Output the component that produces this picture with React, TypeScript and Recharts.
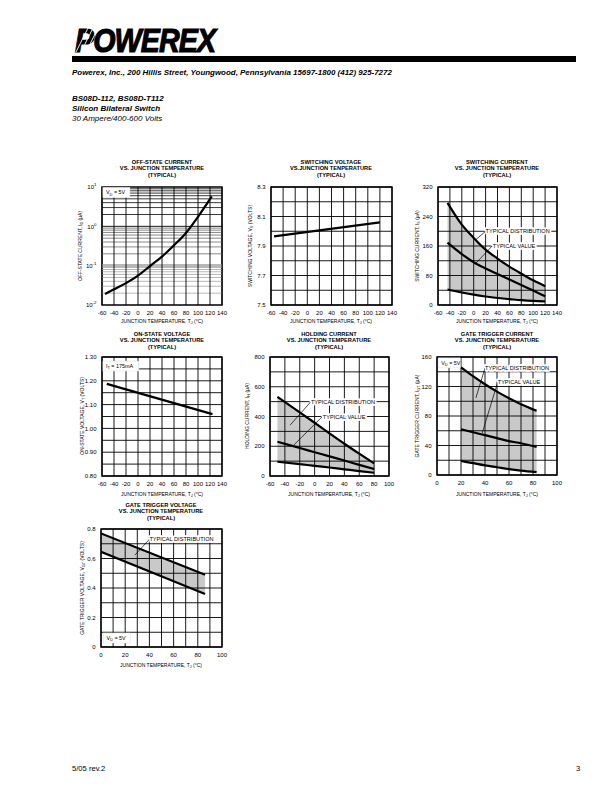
import React from 'react';
import {
  ComposedChart, Line, Area, XAxis, YAxis,
  ReferenceLine, ReferenceArea, ReferenceDot,
} from 'recharts';

const FONT = '"Liberation Sans", Arial, Helvetica, sans-serif';

// ---------------- data ----------------
// Off-state current vs junction temperature (log scale)
const offTemps = [-55, -40, -20, 0, 20, 40, 60, 80, 100, 123];
const offCurrent = [0.019, 0.025, 0.036, 0.056, 0.098, 0.17, 0.33, 0.68, 1.75, 5.8];

// Switching voltage
const swvTemps = [-55, 120];
const swvVolts = [7.965, 8.06];

// Switching current
const swcTemps = [-44, -20, 0, 20, 40, 60, 80, 100, 120];
const swcMax = [277, 218, 182, 150, 126, 104, 85, 67, 51];
const swcTyp = [169, 138, 116, 99, 84, 69, 54, 39, 24];
const swcMin = [42, 34, 28, 23, 19, 16, 13, 11, 10];

// On-state voltage
const onTemps = [-52, 124];
const onVolts = [1.187, 1.06];

// Holding current
const holdTemps = [-50, -20, 0, 20, 40, 60, 80];
const holdMax = [532, 428, 358, 287, 217, 150, 85];
const holdTyp = [230, 188, 160, 132, 104, 75, 47];
const holdMin = [96, 80, 68, 57, 45, 33, 22];

// Gate trigger current
const gtiTemps = [20, 30, 40, 50, 60, 70, 83];
const gtiMax = [146, 134, 123, 113, 104, 96, 87];
const gtiTyp = [62, 58, 54, 50, 46, 43, 38];
const gtiMin = [19, 16, 13, 10.5, 8, 6, 4];

// Gate trigger voltage
const gtvTemps = [0, 86];
const gtvMax = [0.77, 0.49];
const gtvMin = [0.645, 0.36];

// ---------------- ticks ----------------
const tempTicksWide = [-60, -40, -20, 0, 20, 40, 60, 80, 100, 120, 140];
const tempTicksHold = [-60, -40, -20, 0, 20, 40, 60, 80, 100];
const tempTicksGate = [0, 10, 20, 30, 40, 50, 60, 70, 80, 90, 100];

const offDecades = [0.01, 0.1, 1, 10];
const offMinorLow = [0.02, 0.03, 0.04, 0.05, 0.06, 0.07, 0.08, 0.09];
const offMinorMid = [0.2, 0.3, 0.4, 0.5, 0.6, 0.7, 0.8, 0.9];
const offMinorHigh = [2, 3, 4, 5, 6, 7, 8, 9];

const swvTicks = [7.5, 7.6, 7.7, 7.8, 7.9, 8.0, 8.1, 8.2, 8.3];
const swcTicks = [0, 40, 80, 120, 160, 200, 240, 280, 320];
const onTicks = [0.8, 0.85, 0.9, 0.95, 1.0, 1.05, 1.1, 1.15, 1.2, 1.25, 1.3];
const holdTicks = [0, 100, 200, 300, 400, 500, 600, 700, 800];
const gtiTicks = [0, 20, 40, 60, 80, 100, 120, 140, 160];
const gtvTicks = [0, 0.1, 0.2, 0.3, 0.4, 0.5, 0.6, 0.7, 0.8];

// ---------------- helpers ----------------
const fmtAll = (v: number) => String(v);
const fmtEvery20 = (v: number) => (Math.round(v) % 20 === 0 ? String(v) : '');
const fmtSwv = (v: number) => (Math.round(v * 10) % 2 === 1 ? v.toFixed(1) : '');
const fmtSwc = (v: number) => (Math.round(v) % 80 === 0 ? String(v) : '');
const fmtOn = (v: number) => (Math.round(v * 100) % 10 === 0 ? v.toFixed(2) : '');
const fmtHold = (v: number) => (Math.round(v) % 200 === 0 ? String(v) : '');
const fmtGti = (v: number) => (Math.round(v) % 40 === 0 ? String(v) : '');
const fmtGtv = (v: number) => (Math.round(v * 10) % 2 === 0 ? (v === 0 ? '0' : v.toFixed(1)) : '');

const LINE_W = 2.2;
const BAND = '#c9c9c9';
const GRID_W = 0.9;

const LogTick = (props: any) => {
  const { x, y, payload } = props;
  const e = Math.round(Math.log10(payload.value));
  return (
    <text x={x} y={y} dy={2.2} textAnchor="end" fontSize={6} fontFamily={FONT} fill="#000">
      10<tspan dy={-2.8} fontSize={4.4}>{e}</tspan>
    </text>
  );
};

const tagShape = (text: string) => (p: any) => (
  <text
    x={p.cx}
    y={p.cy}
    dy="0.36em"
    textAnchor="start"
    fontSize={5.6}
    fontFamily={FONT}
    fill="#000"
    stroke="#fff"
    strokeWidth={3.6}
    strokeLinejoin="round"
    style={{ paintOrder: 'stroke' }}
  >
    {text}
  </text>
);

const boxShape = (main: string, sub: string, rest: string, w: number) => (p: any) => (
  <g>
    <rect x={p.cx} y={p.cy - 5} width={w} height={10} fill="#fff" stroke="#ddd" strokeWidth={0.5} />
    <text x={p.cx + 3} y={p.cy} dy="0.36em" fontSize={5.4} fontFamily={FONT} fill="#000">
      {main}
      <tspan dy={1.3} fontSize={4}>{sub}</tspan>
      <tspan dy={-1.3}>{rest}</tspan>
    </text>
  </g>
);

type PanelProps = {
  pl: number; pt: number; pw: number; ph: number;
  data: any[];
  xDomain: [number, number]; xTicks: number[]; xFmt: (v: number) => string;
  yDomain: [number, number]; yTicks: number[]; yFmt?: (v: number) => string;
  yLog?: boolean;
  children?: React.ReactNode;
};

const YW = 40, TOPM = 4, XH = 22, RIGHTM = 12;

function Panel(p: PanelProps) {
  return (
    <div style={{ position: 'absolute', left: p.pl - YW, top: p.pt - TOPM }}>
      <ComposedChart
        width={p.pw + YW + RIGHTM}
        height={p.ph + TOPM + XH}
        data={p.data}
        margin={{ top: TOPM, right: RIGHTM, bottom: 0, left: 0 }}
      >
        <XAxis
          type="number" dataKey="t" domain={p.xDomain} ticks={p.xTicks} interval={0}
          tickFormatter={p.xFmt} tickLine={false} axisLine={false} tickSize={4} tickMargin={2}
          height={XH} allowDataOverflow
          tick={{ fontSize: 6, fill: '#000', fontFamily: FONT }}
        />
        <YAxis
          type="number" domain={p.yDomain} ticks={p.yTicks} interval={0}
          scale={p.yLog ? 'log' : 'linear'}
          tickFormatter={p.yFmt} tickLine={false} axisLine={false} tickSize={3} tickMargin={2.5}
          width={YW} allowDataOverflow
          tick={p.yLog ? <LogTick /> : { fontSize: 6, fill: '#000', fontFamily: FONT }}
        />
        {p.children}
      </ComposedChart>
    </div>
  );
}

const gridLines = (xs: number[], ys: number[]) => [
  ...xs.map((v) => <ReferenceLine key={'gx' + v} x={v} stroke="#000" strokeWidth={GRID_W} />),
  ...ys.map((v) => <ReferenceLine key={'gy' + v} y={v} stroke="#000" strokeWidth={GRID_W} />),
];
const frameEl = (xd: [number, number], yd: [number, number]) => (
  <ReferenceArea x1={xd[0]} x2={xd[1]} y1={yd[0]} y2={yd[1]} fill="none" fillOpacity={0} stroke="#000" strokeWidth={1.4} ifOverflow="visible" />
);

const Title = ({ cx, top, lines }: { cx: number; top: number; lines: string[] }) => (
  <div style={{
    position: 'absolute', left: cx, top, transform: 'translateX(-50%)', textAlign: 'center',
    fontSize: 5.7, lineHeight: '6.7px', fontWeight: 'bold', fontFamily: FONT, whiteSpace: 'nowrap', color: '#000',
  }}>
    {lines.map((l, i) => <div key={i}>{l}</div>)}
  </div>
);

const Sub = ({ children }: { children: React.ReactNode }) => (
  <span style={{ fontSize: '0.75em', position: 'relative', top: '0.35em' }}>{children}</span>
);

const XTitle = ({ cx, cy }: { cx: number; cy: number }) => (
  <div style={{
    position: 'absolute', left: cx, top: cy - 3, transform: 'translateX(-50%)', whiteSpace: 'nowrap',
    fontSize: 5, lineHeight: '6px', fontFamily: FONT, color: '#000',
  }}>
    JUNCTION TEMPERATURE, T<Sub>J</Sub> (°C)
  </div>
);

const YTitle = ({ cx, cy, children }: { cx: number; cy: number; children: React.ReactNode }) => (
  <div style={{
    position: 'absolute', left: cx, top: cy, transform: 'translate(-50%,-50%) rotate(-90deg)', whiteSpace: 'nowrap',
    fontSize: 5, lineHeight: '6px', fontFamily: FONT, color: '#000',
  }}>
    {children}
  </div>
);

// ---------------- chart data tables ----------------
const offData = offTemps.map((t, i) => ({ t, v: offCurrent[i] }));
const swvData = swvTemps.map((t, i) => ({ t, v: swvVolts[i] }));
const swcData = swcTemps.map((t, i) => ({ t, hi: swcMax[i], typ: swcTyp[i], lo: swcMin[i], band: [swcMin[i], swcMax[i]] }));
const onData = onTemps.map((t, i) => ({ t, v: onVolts[i] }));
const holdData = holdTemps.map((t, i) => ({ t, hi: holdMax[i], typ: holdTyp[i], lo: holdMin[i], band: [holdMin[i], holdMax[i]] }));
const gtiData = gtiTemps.map((t, i) => ({ t, hi: gtiMax[i], typ: gtiTyp[i], lo: gtiMin[i], band: [gtiMin[i], gtiMax[i]] }));
const gtvData = gtvTemps.map((t, i) => ({ t, hi: gtvMax[i], lo: gtvMin[i], band: [gtvMin[i], gtvMax[i]] }));

const leader = (x1: number, y1: number, x2: number, y2: number) => (
  <ReferenceLine segment={[{ x: x1, y: y1 }, { x: x2, y: y2 }]} stroke="#000" strokeWidth={0.7} ifOverflow="visible" />
);

export default function App() {
  const W: [number, number] = [-60, 140];
  return (
    <div style={{ position: 'absolute', left: 0, top: 0, width: 612, height: 792, background: '#fff', fontFamily: FONT, color: '#000' }}>
      {/* Header */}
      <div style={{
        position: 'absolute', left: 75, top: 23, fontSize: 34, lineHeight: '34px', fontWeight: 'bold', fontStyle: 'italic',
        fontFamily: FONT, transform: 'scaleX(0.84)', transformOrigin: 'left top', letterSpacing: -1, whiteSpace: 'nowrap',
        WebkitTextStroke: '1.2px #000',
      }}>POWEREX</div>
      <svg style={{ position: 'absolute', left: 74, top: 27 }} width={30} height={26}>
        {[0, 1, 2].map((i) => (
          <line key={i} x1={2 + i * 5} y1={25} x2={14 + i * 5} y2={1} stroke="#fff" strokeWidth={0.9} />
        ))}
      </svg>
      <div style={{ position: 'absolute', left: 72, top: 56, width: 504, height: 6, background: '#000' }} />
      <div style={{ position: 'absolute', left: 72, top: 67.5, fontSize: 7.95, lineHeight: '9px', fontWeight: 'bold', fontStyle: 'italic', whiteSpace: 'nowrap' }}>
        Powerex, Inc., 200 Hillis Street, Youngwood, Pennsylvania 15697-1800 (412) 925-7272
      </div>
      <div style={{ position: 'absolute', left: 72, top: 93.5, fontSize: 8, lineHeight: '10px', fontWeight: 'bold', fontStyle: 'italic', whiteSpace: 'nowrap' }}>
        <div>BS08D-112, BS08D-T112</div>
        <div>Silicon Bilateral Switch</div>
        <div style={{ fontWeight: 'normal' }}>30 Ampere/400-600 Volts</div>
      </div>

      {/* Chart 1: Off-state current */}
      <Title cx={162} top={158.5} lines={['OFF-STATE CURRENT', 'VS. JUNCTION TEMPERATURE', '(TYPICAL)']} />
      <Panel pl={102} pt={187} pw={120} ph={118} data={offData}
        xDomain={W} xTicks={tempTicksWide} xFmt={fmtAll}
        yDomain={[0.01, 10]} yTicks={offDecades} yLog>
        {offMinorLow.map((v) => <ReferenceLine key={'l' + v} y={v} stroke="#b0b0b0" strokeWidth={GRID_W} />)}
        {offMinorMid.map((v) => <ReferenceLine key={'m' + v} y={v} stroke="#7a7a7a" strokeWidth={GRID_W} />)}
        {offMinorHigh.map((v) => <ReferenceLine key={'h' + v} y={v} stroke="#222" strokeWidth={GRID_W} />)}
        <ReferenceLine y={0.1} stroke="#b8b8b8" strokeWidth={3.5} />
        <ReferenceLine y={1} stroke="#000" strokeWidth={GRID_W} />
        {gridLines(tempTicksWide, [])}
        {frameEl(W, [0.01, 10])}
        <Line dataKey="v" type="monotone" stroke="#000" strokeWidth={LINE_W} dot={false} isAnimationActive={false} />
        <ReferenceDot x={-58.5} y={7.3} r={0} ifOverflow="visible" shape={boxShape('V', 'D', ' = 5V', 27)} />
      </Panel>
      <YTitle cx={80} cy={246}>OFF-STATE CURRENT, I<Sub>D</Sub> (µA)</YTitle>
      <XTitle cx={162} cy={321} />

      {/* Chart 2: Switching voltage */}
      <Title cx={331} top={158.5} lines={['SWITCHING VOLTAGE', 'VS.JUNCTION TENPERATURE', '(TYPICAL)']} />
      <Panel pl={271} pt={187} pw={121} ph={118} data={swvData}
        xDomain={W} xTicks={tempTicksWide} xFmt={fmtAll}
        yDomain={[7.5, 8.3]} yTicks={swvTicks} yFmt={fmtSwv}>
        {gridLines(tempTicksWide, swvTicks)}
        {frameEl(W, [7.5, 8.3])}
        <Line dataKey="v" type="linear" stroke="#000" strokeWidth={LINE_W} dot={false} isAnimationActive={false} />
      </Panel>
      <YTitle cx={250} cy={246}>SWITCHING VOLTAGE, V<Sub>S</Sub> (VOLTS)</YTitle>
      <XTitle cx={331} cy={321} />

      {/* Chart 3: Switching current */}
      <Title cx={497} top={158.5} lines={['SWITCHING CURRENT', 'VS. JUNCTION TEMPERATURE', '(TYPICAL)']} />
      <Panel pl={438} pt={187} pw={119} ph={118} data={swcData}
        xDomain={W} xTicks={tempTicksWide} xFmt={fmtAll}
        yDomain={[0, 320]} yTicks={swcTicks} yFmt={fmtSwc}>
        <Area dataKey="band" type="monotone" stroke="none" fill={BAND} fillOpacity={1} isAnimationActive={false} />
        {gridLines(tempTicksWide, swcTicks)}
        {frameEl(W, [0, 320])}
        <Line dataKey="hi" type="monotone" stroke="#000" strokeWidth={LINE_W} dot={false} isAnimationActive={false} />
        <Line dataKey="typ" type="monotone" stroke="#000" strokeWidth={LINE_W} dot={false} isAnimationActive={false} />
        <Line dataKey="lo" type="monotone" stroke="#000" strokeWidth={LINE_W} dot={false} isAnimationActive={false} />
        {leader(2, 175, 20, 200)}
        {leader(4, 114, 31, 160)}
        <ReferenceDot x={20} y={200} r={0} ifOverflow="visible" shape={tagShape('TYPICAL DISTRIBUTION')} />
        <ReferenceDot x={32} y={160} r={0} ifOverflow="visible" shape={tagShape('TYPICAL VALUE')} />
      </Panel>
      <YTitle cx={417} cy={246}>SWITCHING CURRENT, I<Sub>S</Sub> (µA)</YTitle>
      <XTitle cx={497} cy={321} />

      {/* Chart 4: On-state voltage */}
      <Title cx={162} top={330.5} lines={['ON-STATE VOLTAGE', 'VS. JUNCTION TEMPERATURE', '(TYPICAL)']} />
      <Panel pl={102} pt={357} pw={120} ph={119} data={onData}
        xDomain={W} xTicks={tempTicksWide} xFmt={fmtAll}
        yDomain={[0.8, 1.3]} yTicks={onTicks} yFmt={fmtOn}>
        {gridLines(tempTicksWide, onTicks)}
        {frameEl(W, [0.8, 1.3])}
        <Line dataKey="v" type="linear" stroke="#000" strokeWidth={LINE_W} dot={false} isAnimationActive={false} />
        <ReferenceDot x={-58.5} y={1.262} r={0} ifOverflow="visible" shape={boxShape('I', 'T', ' = 175mA', 36)} />
      </Panel>
      <YTitle cx={82} cy={416}>ON-STATE VOLTAGE, V<Sub>T</Sub> (VOLTS)</YTitle>
      <XTitle cx={162} cy={494} />

      {/* Chart 5: Holding current */}
      <Title cx={329} top={330.5} lines={['HOLDING CURRENT', 'VS. JUNCTION TEMPERATURE', '(TYPICAL)']} />
      <Panel pl={270} pt={357} pw={119} ph={119} data={holdData}
        xDomain={[-60, 100]} xTicks={tempTicksHold} xFmt={fmtAll}
        yDomain={[0, 800]} yTicks={holdTicks} yFmt={fmtHold}>
        <Area dataKey="band" type="monotone" stroke="none" fill={BAND} fillOpacity={1} isAnimationActive={false} />
        {gridLines(tempTicksHold, holdTicks)}
        {frameEl([-60, 100], [0, 800])}
        <Line dataKey="hi" type="monotone" stroke="#000" strokeWidth={LINE_W} dot={false} isAnimationActive={false} />
        <Line dataKey="typ" type="monotone" stroke="#000" strokeWidth={LINE_W} dot={false} isAnimationActive={false} />
        <Line dataKey="lo" type="monotone" stroke="#000" strokeWidth={LINE_W} dot={false} isAnimationActive={false} />
        {leader(-33, 342, -5, 500)}
        {leader(-28.6, 205, 10.5, 400)}
        <ReferenceDot x={-5} y={500} r={0} ifOverflow="visible" shape={tagShape('TYPICAL DISTRIBUTION')} />
        <ReferenceDot x={11} y={400} r={0} ifOverflow="visible" shape={tagShape('TYPICAL VALUE')} />
      </Panel>
      <YTitle cx={247} cy={416}>HOLDING CURRENT, I<Sub>H</Sub> (µA)</YTitle>
      <XTitle cx={329} cy={494} />

      {/* Chart 6: Gate trigger current */}
      <Title cx={497} top={330.5} lines={['GATE TRIGGER CURRENT', 'VS. JUNCTION TEMPERATURE', '(TYPICAL)']} />
      <Panel pl={437} pt={357} pw={120} ph={118} data={gtiData}
        xDomain={[0, 100]} xTicks={tempTicksGate} xFmt={fmtEvery20}
        yDomain={[0, 160]} yTicks={gtiTicks} yFmt={fmtGti}>
        <Area dataKey="band" type="monotone" stroke="none" fill={BAND} fillOpacity={1} isAnimationActive={false} />
        {gridLines(tempTicksGate, gtiTicks)}
        {frameEl([0, 100], [0, 160])}
        <Line dataKey="hi" type="monotone" stroke="#000" strokeWidth={LINE_W} dot={false} isAnimationActive={false} />
        <Line dataKey="typ" type="monotone" stroke="#000" strokeWidth={LINE_W} dot={false} isAnimationActive={false} />
        <Line dataKey="lo" type="monotone" stroke="#000" strokeWidth={LINE_W} dot={false} isAnimationActive={false} />
        {leader(32.4, 104.5, 40, 145)}
        {leader(37.7, 57, 50.6, 126)}
        <ReferenceDot x={40} y={145} r={0} ifOverflow="visible" shape={tagShape('TYPICAL DISTRIBUTION')} />
        <ReferenceDot x={50.6} y={126} r={0} ifOverflow="visible" shape={tagShape('TYPICAL VALUE')} />
        <ReferenceDot x={1} y={152} r={0} ifOverflow="visible" shape={boxShape('V', 'D', ' = 5V', 22)} />
      </Panel>
      <YTitle cx={417} cy={416}>GATE TRIGGER CURRENT, I<Sub>GT</Sub> (µA)</YTitle>
      <XTitle cx={497} cy={494} />

      {/* Chart 7: Gate trigger voltage */}
      <Title cx={161} top={501.5} lines={['GATE TRIGGER VOLTAGE', 'VS. JUNCTION TEMPERATURE', '(TYPICAL)']} />
      <Panel pl={101} pt={529} pw={121} ph={118} data={gtvData}
        xDomain={[0, 100]} xTicks={tempTicksGate} xFmt={fmtEvery20}
        yDomain={[0, 0.8]} yTicks={gtvTicks} yFmt={fmtGtv}>
        <Area dataKey="band" type="linear" stroke="none" fill={BAND} fillOpacity={1} isAnimationActive={false} />
        {gridLines(tempTicksGate, gtvTicks)}
        {frameEl([0, 100], [0, 0.8])}
        <Line dataKey="hi" type="linear" stroke="#000" strokeWidth={LINE_W} dot={false} isAnimationActive={false} />
        <Line dataKey="lo" type="linear" stroke="#000" strokeWidth={LINE_W} dot={false} isAnimationActive={false} />
        {leader(28, 0.623, 40, 0.73)}
        <ReferenceDot x={40} y={0.73} r={0} ifOverflow="visible" shape={tagShape('TYPICAL DISTRIBUTION')} />
        <ReferenceDot x={2} y={0.061} r={0} ifOverflow="visible" shape={boxShape('V', 'D', ' = 5V', 27)} />
      </Panel>
      <YTitle cx={82} cy={588}>GATE TRIGGER VOLTAGE, V<Sub>GT</Sub> (VOLTS)</YTitle>
      <XTitle cx={161} cy={665} />

      {/* Footer */}
      <div style={{ position: 'absolute', left: 72, top: 763.5, fontSize: 7.6, lineHeight: '9px', whiteSpace: 'nowrap' }}>5/05 rev.2</div>
      <div style={{ position: 'absolute', left: 576, top: 763.5, fontSize: 7.6, lineHeight: '9px' }}>3</div>
    </div>
  );
}
